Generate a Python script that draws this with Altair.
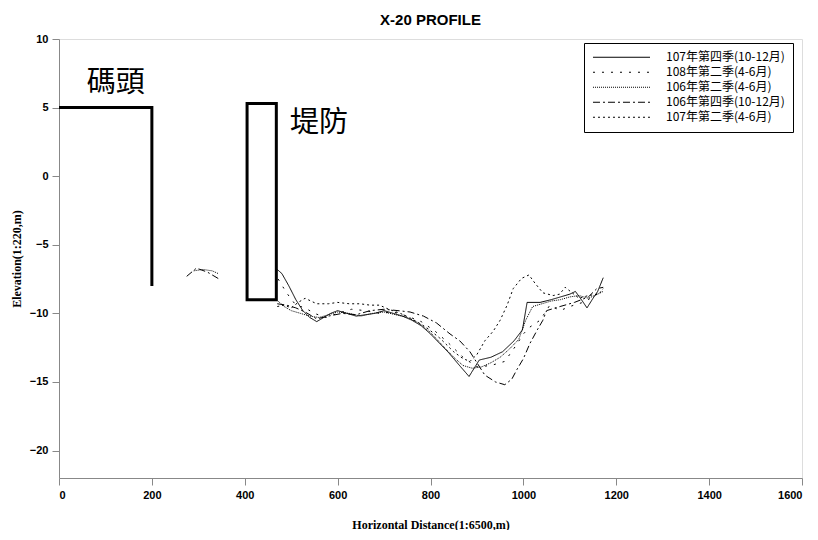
import altair as alt
import pandas as pd

# ---------------- data ----------------
series_names = [
    "107年第四季(10-12月)",
    "108年第二季(4-6月)",
    "106年第二季(4-6月)",
    "106年第四季(10-12月)",
    "107年第二季(4-6月)",
]
dash_styles = [[1, 0], [2, 7], [1, 1], [7, 3, 2, 3], [2, 3]]

# 107Q4 (solid)
s1_x = [470, 480, 495, 510, 525, 540, 555, 570, 585, 600, 620, 640, 660, 680, 700, 720, 740, 760, 780, 800,
        820, 840, 860, 883, 905, 930, 955, 980, 998, 1008, 1036, 1060, 1080, 1100, 1112, 1125, 1137, 1150, 1160, 1172]
s1_y = [-6.8, -7.1, -8.0, -9.0, -9.8, -10.3, -10.6, -10.3, -10.0, -9.8, -10.0, -10.2, -10.1, -10.0, -9.8, -10.0,
        -10.2, -10.5, -10.9, -11.5, -12.2, -12.9, -13.7, -14.6, -13.4, -13.2, -12.8, -12.0, -11.2, -9.2, -9.2, -9.0,
        -8.8, -8.6, -8.4, -9.0, -9.6, -8.9, -8.4, -7.4]

# 108Q2 (sparse dots)
s2_x = [472, 490, 510, 530, 550, 575, 600, 630, 660, 690, 720, 750, 780, 810, 840, 870, 900, 930, 960, 985,
        1000, 1014, 1036, 1057, 1079, 1100, 1128, 1150, 1172]
s2_y = [-7.5, -8.5, -9.4, -9.6, -10.0, -10.3, -10.0, -9.7, -9.8, -10.0, -9.9, -10.2, -10.6, -11.3, -12.2, -13.2,
        -13.9, -13.8, -13.5, -12.3, -11.5, -11.0, -10.5, -9.4, -9.8, -9.5, -9.2, -8.8, -8.2]

# 106Q2 (dense dots) - two pieces
s3a_x = [290, 310, 330, 343]
s3a_y = [-6.9, -6.8, -6.9, -7.1]
s3_x = [468, 485, 500, 520, 540, 560, 580, 600, 625, 650, 675, 700, 725, 750, 775, 800, 825, 850, 870, 890,
        910, 930, 950, 970, 990, 1005, 1020, 1040, 1060, 1080, 1100, 1120, 1140, 1160, 1172]
s3_y = [-9.0, -9.5, -9.8, -10.0, -10.2, -10.3, -10.1, -9.9, -10.0, -10.2, -10.0, -9.9, -10.1, -10.3, -10.7,
        -11.4, -12.3, -13.2, -13.8, -14.0, -13.9, -13.6, -13.2, -12.6, -11.9, -10.5, -9.5, -9.3, -9.1, -9.0,
        -8.8, -8.7, -8.9, -8.6, -8.4]

# 106Q4 (dash-dot) - two pieces
s4a_x = [275, 296, 320, 345]
s4a_y = [-7.3, -6.7, -7.0, -7.5]
s4_x = [470, 490, 510, 530, 555, 580, 610, 640, 670, 700, 730, 756, 785, 813, 842, 863, 885, 917, 940, 960,
        975, 986, 1000, 1014, 1030, 1042, 1050, 1079, 1110, 1140, 1158, 1172]
s4_y = [-9.3, -9.4, -9.6, -9.9, -10.4, -10.2, -10.0, -10.1, -9.8, -9.7, -9.8, -9.9, -10.2, -10.7, -11.5,
        -12.0, -12.8, -14.5, -15.0, -15.2, -14.8, -14.1, -13.3, -12.2, -11.2, -10.5, -9.8, -9.5, -9.2, -8.8,
        -8.2, -8.1]

# 107Q2 (dotted, high peak)
s5_x = [470, 485, 500, 515, 530, 555, 580, 600, 625, 648, 670, 690, 710, 735, 760, 790, 820, 850, 870, 885,
        900, 917, 935, 950, 965, 978, 996, 1012, 1025, 1042, 1064, 1078, 1090, 1105, 1120, 1140, 1160, 1172]
s5_y = [-9.5, -9.4, -9.6, -9.2, -8.9, -9.3, -9.3, -9.2, -9.3, -9.3, -9.4, -9.4, -9.7, -10.0, -10.4, -11.0,
        -11.8, -12.8, -13.3, -13.5, -13.0, -12.0, -11.3, -10.5, -9.4, -8.2, -7.45, -7.2, -7.8, -8.5, -8.7,
        -8.6, -8.1, -8.5, -8.9, -8.7, -8.6, -8.3]

# structures
wharf_x = [0, 200, 200]
wharf_y = [5, 5, -8]
levee_x = [405]
levee_x2 = [468]
levee_y = [5.3]
levee_y2 = [-9]
label_text = ["碼頭", "堤防"]
label_x = [122, 560]
label_y = [6.8, 3.9]

# ---------------- build tables ----------------
rows = []
def add(name, seg, xs, ys):
    for i, (a, b) in enumerate(zip(xs, ys)):
        rows.append({"series": name, "seg": f"{name}-{seg}", "order": i, "x": a, "y": b})

add(series_names[0], 0, s1_x, s1_y)
add(series_names[1], 0, s2_x, s2_y)
add(series_names[2], 0, s3a_x, s3a_y)
add(series_names[2], 1, s3_x, s3_y)
add(series_names[3], 0, s4a_x, s4a_y)
add(series_names[3], 1, s4_x, s4_y)
add(series_names[4], 0, s5_x, s5_y)
df = pd.DataFrame(rows)

wharf = pd.DataFrame({"x": wharf_x, "y": wharf_y, "order": range(len(wharf_x))})
levee = pd.DataFrame({"x": levee_x, "x2": levee_x2, "y": levee_y, "y2": levee_y2})
labels = pd.DataFrame({"t": label_text, "x": label_x, "y": label_y})

xscale = alt.Scale(domain=[0, 1600], nice=False, zero=False)
yscale = alt.Scale(domain=[-22, 10], nice=False, zero=False)

xaxis = alt.Axis(values=list(range(0, 1601, 200)), format="d", title="Horizontal Distance(1:6500,m)",
                 grid=False, tickSize=7, labelFontWeight="bold", labelFont="Liberation Sans",
                 labelFontSize=11, labelPadding=4, titlePadding=19,
                 titleFont="Liberation Serif", titleFontSize=12, titleFontWeight="bold")
yaxis = alt.Axis(values=list(range(-20, 11, 5)), format="d", title="Elevation(1:220,m)",
                 grid=False, tickSize=7, labelFontWeight="bold", labelFont="Liberation Sans",
                 labelFontSize=11, labelPadding=4, titlePadding=6,
                 titleFont="Liberation Serif", titleFontSize=12, titleFontWeight="bold")

lines = alt.Chart(df).mark_line(color="black", strokeWidth=1).encode(
    x=alt.X("x:Q", scale=xscale, axis=xaxis),
    y=alt.Y("y:Q", scale=yscale, axis=yaxis),
    strokeDash=alt.StrokeDash("series:N",
                              scale=alt.Scale(domain=series_names, range=dash_styles),
                              legend=alt.Legend(title=None, orient="none", legendX=525, legendY=4,
                                                symbolType="stroke", symbolSize=3250,
                                                symbolStrokeColor="black", symbolStrokeWidth=1,
                                                clipHeight=12.5, rowPadding=2,
                                                labelFont="Noto Sans CJK TC", labelFontSize=12,
                                                labelColor="black", labelOffset=15,
                                                strokeColor="black", fillColor="white",
                                                padding=8)),
    detail="seg:N",
    order="order:Q",
)

wharf_line = alt.Chart(wharf).mark_line(color="black", strokeWidth=3, strokeJoin="miter").encode(
    x=alt.X("x:Q", scale=xscale), y=alt.Y("y:Q", scale=yscale), order="order:Q")

levee_rect = alt.Chart(levee).mark_rect(fill="white", fillOpacity=0, stroke="black", strokeWidth=3).encode(
    x=alt.X("x:Q", scale=xscale), x2="x2:Q", y=alt.Y("y:Q", scale=yscale), y2="y2:Q")

text = alt.Chart(labels).mark_text(font="Noto Sans CJK TC", fontSize=29, color="black").encode(
    x=alt.X("x:Q", scale=xscale), y=alt.Y("y:Q", scale=yscale), text="t:N")

chart = alt.layer(wharf_line, levee_rect, lines, text).properties(
    width=743, height=439,
    title=alt.TitleParams("X-20  PROFILE", font="Liberation Sans", fontSize=15, fontWeight="bold",
                          color="black", offset=5),
    autosize="none",
    padding={"left": 51, "top": 31, "right": 8, "bottom": 52},
).configure_view(stroke="black", strokeWidth=1.5).configure_axis(
    domainColor="black", tickColor="black", labelColor="black", titleColor="black", domainWidth=1.5
).configure(background="white")

chart.save("out.html", embed_options={"renderer": "svg", "actions": False})
